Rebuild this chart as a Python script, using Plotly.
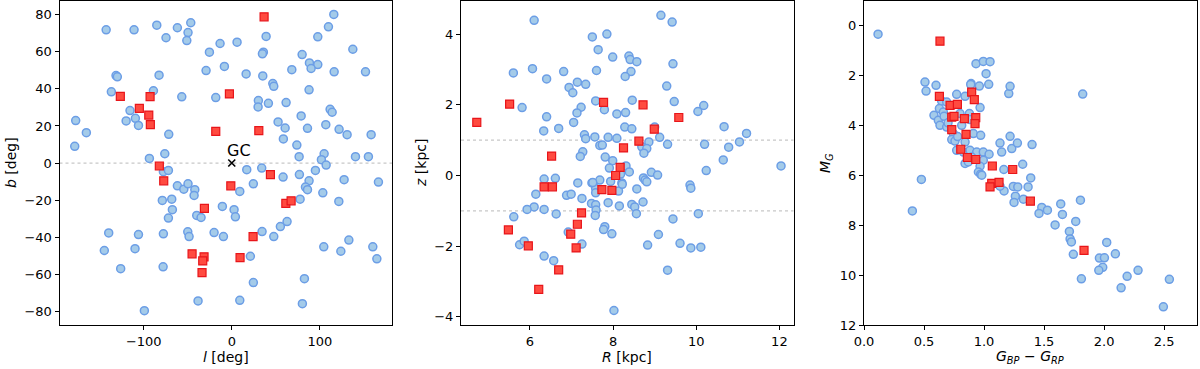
import plotly.graph_objects as go

# panel 1: galactic coordinates
l_blue = [-142.7, -111, -85.2, -74.7, -61.8, -46.6, -49.7, -51.1, -131.5, -130, -82.6, -136.8, -89, -56.8,
          -115.6, -120, -109.5, -106, -177.3, -165.2, -178.4, -71.6, -93.6, -76.1, -77.7, -72, -61.8, -54.5,
          -49.7, -42, -42.8, -78.9, -68.2, -67.5, -72, -39.8, -139.8, -106, -77.7, -50, -48.5, -144.8, -109.9,
          -126.2, -78, -99.3, -38.3,
          115.9, 109.8, 97.7, 39, -25.4, -13.3, 6, 35.9, 34.8, 137.5, 79.9, 88.2, 97.7, 90.1, -29.2, -8.4, 16.3,
          35.2, 68.2, 116.3, 151.9, 46.6, 47.7, 87.8, -18.2, 30.2, 29.9, 41.6, 61.7, 111.7, 114, 78.8, 52.6,
          60.6, 86, 106.8, 121.9, 131, 158.3, 58.6, 73.9, 76.5, 104.9, 101.8, 107.2, 140.5, 155.2, 17, 34, 58.3,
          76.8, 95, 87.8, 127.6, 24.5, 9.1, 83.7, 86, 166.6, 103.4, 121.6, 77.6, -10.7, 2.6, 4.1, -34.9, 62.8,
          55.2, -20.1, -9.5, 34.4, 47.7, 104.5, 123.9, 133, 160.2, 164.8, 21.1, 24.5, 82.5, 9.1, 80.2]
b_blue = [71.9, 71.9, 74.4, 67.6, 73, 75.7, 70.4, 66.1, 47.2, 46.5, 47.4, 38.4, 39, 35.7,
          28.3, 22.7, 24.1, 20.3, 22.9, 16.4, 9, 15.5, 2.5, 5, -4.7, -4, -12.3, -14.1,
          -11.2, -14.4, -17.5, -20.2, -19.5, -25.2, -29.7, -28.3, -37.7, -38.6, -38.2, -37.1, -39.7, -47.2, -46.2,
          -57, -56, -79.7, -74.4,
          80.2, 73.5, 68.1, 68.3, 59.8, 64.5, 65.2, 59.8, 58.9, 61.4, 58.5, 54, 53.1, 51, 49.9, 52.1, 48.1,
          47, 50.4, 49.2, 49.2, 42.9, 41.4, 39.5, 35.3, 33.7, 30.3, 32.2, 32.6, 29, 27.4, 25.4, 22.2,
          18.9, 18.7, 20.7, 18.2, 15.3, 15.3, 13, 9.7, 3.4, 5, 1.8, -1.1, 3.4, 3.4, -3.6, -2.7, -7.6,
          -6.2, -4, -9.6, -9, -11.2, -15.3, -13, -14.4, -10.3, -16.1, -20.7, -19.5, -23.4, -25.2, -29, -29.4, -31.6,
          -34.3, -37.5, -39.7, -37, -39.7, -45.2, -47.6, -41.6, -45.2, -51.7, -50.3, -64.5, -62.4, -74.1, -75.9]
l_red = [36.7, -126.6, -105, -92.8, -94.3, -92.5, -2.7, -18.2, 30.7, -82.3, -77.3, 43.9, -1.1, 61.4, 67.4,
         -31.1, 24.2, -45.1, -31.5, -33, -33.8, 9.4]
b_red = [78.9, 36, 29.5, 35.8, 25.9, 20.7, 37.3, 17.1, 17.5, -1.6, -9.6, -6.3, -12.3, -21.8, -20.4,
         -24.5, -39.7, -49, -50.6, -52.8, -59.1, -51]

# panel 2: R-z plane
R_blue = [6.1, 7.5, 7.64, 5.6, 6.06, 6.4, 6.81, 7.14, 6.94, 7.03, 7.34, 7.6, 7.58, 5.81, 6.4, 6.33, 6.69, 7.23,
          7.13, 7.05, 7.31, 7.34, 7.56, 7.68, 7.27, 7.21, 6.34, 6.61, 7.15, 7.49, 7.58, 7.58, 6.14, 6.88, 6.99,
          7.25, 7.48, 7.58, 7.59, 7.57, 6.1, 5.93, 6.34, 6.63, 5.61, 6.92, 5.75, 5.86, 7.25, 6.34, 6.57,
          7.85, 9.15, 9.42, 7.99, 8.38, 8.41, 8.57, 9.44, 8.43, 8.29, 9.29, 7.79, 8.46, 9.47, 8.09, 8.3, 10.04,
          10.18, 8.28, 8.45, 9.0, 10.67, 11.21, 7.88, 8.09, 9.12, 7.74, 8.86, 8.69, 8.81, 8.74, 9.31, 10.2,
          10.78, 11.04, 7.81, 7.99, 7.91, 8.31, 8.39, 10.65, 12.04, 10.24, 8.92, 9.07, 8.73, 8.77, 7.68, 7.94,
          8.21, 9.85, 8.18, 7.51, 8.13, 8.22, 8.57, 8.81, 7.88, 8.15, 8.45, 8.52, 8.56, 8.72, 9.87, 10.05,
          9.44, 7.8, 7.77, 7.97, 9.09, 8.83, 9.61, 9.87, 10.11, 9.31, 8.02]
z_blue = [4.39, 3.92, 3.56, 2.9, 3.02, 2.73, 2.94, 2.64, 2.49, 2.34, 2.58, 2.97, 2.11, 1.92, 1.66, 1.26, 1.33, 1.93,
          1.77, 1.5, 1.15, 1.04, 1.09, 0.85, 0.67, 0.54, -0.1, -0.08, -0.21, -0.21, -0.37, -0.49, -0.53, -0.56, -0.53,
          -0.65, -0.79, -0.83, -0.98, -1.13, -0.89, -0.96, -0.96, -1.09, -1.17, -1.6, -1.96, -1.86, -1.94, -2.28, -2.41,
          4.0, 4.53, 4.34, 3.35, 3.38, 3.28, 3.22, 3.16, 2.94, 2.8, 2.53, 1.86, 2.13, 2.09, 1.74, 1.78, 1.81,
          1.98, 1.37, 1.32, 1.37, 1.38, 1.19, 1.08, 1.05, 1.08, 0.86, 0.95, 0.81, 0.76, 0.63, 0.88, 0.88,
          0.8, 0.95, 0.52, 0.42, 0.21, 0.27, 0.1, 0.44, 0.27, 0.14, 0.09, 0.01, -0.07, -0.13, -0.13, -0.17,
          -0.21, -0.27, 0.04, -0.2, -0.44, -0.25, -0.38, -0.18, -0.77, -0.86, -0.82, -0.89, -1.08, -0.75, -0.36, -1.08,
          -1.23, -1.45, -1.53, -1.65, -1.67, -1.97, -1.92, -2.05, -2.03, -2.68, -3.82]
R_red = [5.51, 4.72, 6.52, 6.34, 6.54, 7.24, 7.14, 6.98, 5.48, 5.96, 7.11, 6.69, 6.21, 7.77, 8.72, 9.58, 8.99,
         8.62, 8.25, 8.17, 8.06, 7.73, 7.97]
z_red = [2.02, 1.5, 0.55, -0.32, -0.32, -1.06, -1.38, -1.66, -1.54, -1.99, -2.05, -2.67, -3.22, 2.07, 2.0, 1.64, 1.31,
         0.97, 0.78, 0.23, 0.0, -0.4, -0.42]

# panel 3: colour-magnitude diagram
bprp_blue = [0.117, 0.933, 0.994, 1.05, 1.017, 1.039, 0.892, 0.889, 0.961, 0.508, 0.517, 0.6, 0.772, 0.842,
             1.206, 1.217, 1.822, 0.967, 0.583,
             0.647, 0.689, 0.628, 0.661, 0.619, 0.633, 0.689, 0.667, 0.8, 0.878, 0.883, 0.911, 0.972, 0.744,
             0.731, 0.758, 0.842, 0.772, 0.828, 0.883, 0.939, 0.994, 1.042, 0.897, 0.994, 0.842, 0.869, 0.967,
             0.953, 0.972, 0.814, 0.70, 0.78,
             1.133, 1.147, 1.217, 1.231, 1.278, 1.4, 1.165, 1.322, 1.389, 1.244, 1.281, 1.367, 1.167, 1.133,
             0.981, 0.478, 0.403, 1.261, 1.25, 1.328, 1.481, 1.528, 1.458, 1.639, 1.653, 1.803, 1.764, 1.592,
             1.711, 1.717, 1.728, 1.744, 2.022, 2.094, 1.961, 2.003, 1.989, 1.956, 1.811, 2.283, 2.192, 2.142,
             2.544, 2.494]
mg_blue = [0.35, 1.53, 1.44, 1.45, 1.93, 2.36, 2.33, 2.37, 2.43, 2.27, 2.63, 2.4, 2.76, 2.84,
           2.73, 2.44, 2.75, 3.29, 3.6,
           3.03, 3.07, 3.33, 3.47, 3.8, 4.0, 4.07, 3.64, 3.53, 3.53, 3.77, 4.33, 4.4, 4.33,
           4.57, 4.63, 4.67, 5.0, 5.07, 5.0, 5.07, 5.07, 5.16, 5.27, 5.4, 5.53, 5.47, 5.64,
           5.87, 5.96, 4.0, 3.9, 4.45,
           4.71, 5.07, 4.44, 4.93, 4.71, 4.77, 5.77, 5.56, 6.11, 6.45, 6.47, 6.47, 6.63, 6.44,
           6.0, 6.17, 7.43, 6.84, 7.09, 6.96, 7.29, 7.4, 7.53, 7.15, 7.57, 7.0, 7.85, 7.99,
           8.25, 8.55, 8.67, 9.17, 8.69, 9.15, 9.32, 9.31, 9.69, 9.81, 10.15, 9.81, 10.05, 10.51,
           10.17, 11.27]
bprp_red = [0.633, 0.897, 0.919, 0.628, 0.717, 0.778, 0.731, 0.75, 0.836, 0.931, 0.925, 0.731, 0.85, 0.806,
            0.861, 0.931, 1.069, 1.064, 1.125, 1.05, 1.239, 1.386, 1.833]
mg_red = [0.63, 2.67, 2.97, 2.84, 3.2, 3.16, 3.67, 3.64, 3.73, 3.69, 3.93, 4.17, 4.36, 4.96,
          5.29, 5.37, 5.63, 6.33, 6.29, 6.47, 5.77, 7.04, 9.01]

blue_marker = dict(symbol='circle', size=8, color='#a4cbe9', line=dict(color='#6c9ee6', width=1.5))
red_marker = dict(symbol='square', size=8, color='#ff4b40', line=dict(color='#e8151a', width=1.2))

fig = go.Figure()
panels = [(l_blue, b_blue, l_red, b_red), (R_blue, z_blue, R_red, z_red), (bprp_blue, mg_blue, bprp_red, mg_red)]
for i, (xb, yb, xr, yr) in enumerate(panels):
    ax = '' if i == 0 else str(i + 1)
    fig.add_trace(go.Scatter(x=xb, y=yb, mode='markers', marker=blue_marker, xaxis='x' + ax, yaxis='y' + ax,
                             showlegend=False))
    fig.add_trace(go.Scatter(x=xr, y=yr, mode='markers', marker=red_marker, xaxis='x' + ax, yaxis='y' + ax,
                             showlegend=False))

# galactic centre
fig.add_trace(go.Scatter(x=[0], y=[0], mode='markers', marker=dict(symbol='x-thin', size=7, color='black',
                         line=dict(color='black', width=1.6)), showlegend=False))
fig.add_annotation(x=-7, y=1, xref='x', yref='y', text='GC', showarrow=False, xanchor='left', yanchor='bottom',
                   font=dict(size=16, color='black'), borderpad=0)

# dotted reference lines
for ax, yv in [('', 0), ('2', 1), ('2', -1)]:
    fig.add_shape(type='line', xref='x' + ax + ' domain', yref='y' + ax, x0=0, x1=1, y0=yv, y1=yv,
                  line=dict(color='#c8c8c8', width=1.2, dash='dot'), layer='below')

W, H = 1200, 369


def px(x):
    return x / W


def py(y):
    return 1 - y / H


doms = [(59.5, 392), (461, 793.5), (864, 1196.5)]
ydom = [py(325), py(0.5)]
axis_style = dict(showline=True, linecolor='black', linewidth=1, mirror=True, ticks='outside', ticklen=4,
                  tickcolor='black', showgrid=False, zeroline=False, automargin=False,
                  tickfont=dict(size=13, color='black'))

layout = dict(width=W, height=H, margin=dict(l=0, r=0, t=0, b=0), plot_bgcolor='white', paper_bgcolor='white',
              font=dict(family='DejaVu Sans', color='black'))
xranges = [[-195.7, 182], [4.34, 12.34], [0, 2.77]]
yranges = [[-87.4, 87.7], [-4.23, 4.95], [12, -1]]
xticks = [dict(tickvals=[-100, 0, 100]), dict(tickvals=[6, 8, 10, 12]),
          dict(tickvals=[0, 0.5, 1, 1.5, 2, 2.5], tickformat='.1f')]
yticks = [dict(tickvals=[-80, -60, -40, -20, 0, 20, 40, 60, 80]), dict(tickvals=[-4, -2, 0, 2, 4]),
          dict(tickvals=[0, 2, 4, 6, 8, 10, 12])]
for i in range(3):
    s = '' if i == 0 else str(i + 1)
    layout['xaxis' + s] = dict(axis_style, domain=[px(doms[i][0]), px(doms[i][1])], range=xranges[i],
                               anchor='y' + s, **xticks[i])
    layout['yaxis' + s] = dict(axis_style, domain=ydom, range=yranges[i], anchor='x' + s, **yticks[i])
fig.update_layout(**layout)

# axis titles
xtitles = ['<i>l</i> [deg]', '<i>R</i> [kpc]', '<i>G</i><sub><i>BP</i></sub> − <i>G</i><sub><i>RP</i></sub>']
ytitles = ['<i>b</i> [deg]', '<i>z</i> [kpc]', '<i>M</i><sub><i>G</i></sub>']
ytitle_x = [11, 421, 826]
for i in range(3):
    fig.add_annotation(x=px((doms[i][0] + doms[i][1]) / 2), y=py(357), xref='paper', yref='paper',
                       xanchor='center', yanchor='middle',
                       text=xtitles[i], showarrow=False, font=dict(size=14, color='black'))
    fig.add_annotation(x=px(ytitle_x[i]), y=py(163), xref='paper', yref='paper', text=ytitles[i],
                       xanchor='center', yanchor='middle',
                       showarrow=False, textangle=-90, font=dict(size=14, color='black'))

# the page body has a default 8px margin; drop it so the figure fills the window
fig.write_html("out.html", config={'displayModeBar': False},
               post_script="document.body.style.margin='0';")
